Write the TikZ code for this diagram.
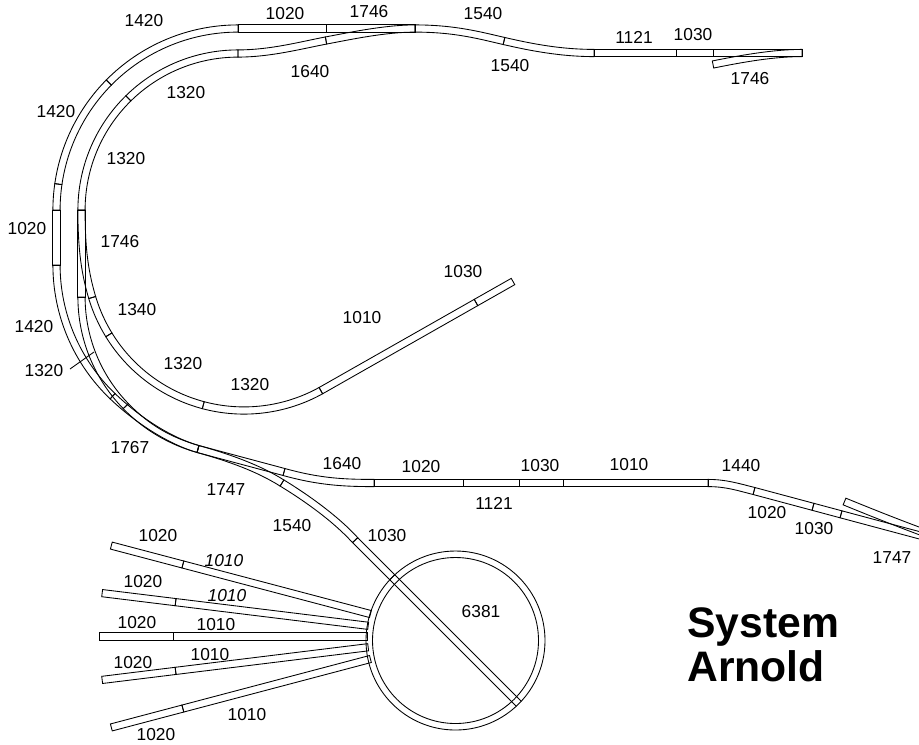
\documentclass[tikz,border=0pt]{standalone}
\usepackage{fontspec}
\setmainfont{Liberation Sans}
\usetikzlibrary{calc}
\newcommand\hw{2.7pt}
% straight piece with closed ends
\newcommand\sr[2]{\draw[rail] ($#1!\hw!-90:#2$) -- ($#2!\hw!90:#1$) -- ($#2!\hw!-90:#1$) -- ($#1!\hw!90:#2$) -- cycle;}
% straight rails without end ties
\newcommand\srn[2]{\draw[rail] ($#1!\hw!-90:#2$) -- ($#2!\hw!90:#1$); \draw[rail] ($#1!\hw!90:#2$) -- ($#2!\hw!-90:#1$);}
% curved (bezier) piece with closed ends
\newcommand\cv[4]{\draw[rail] ($#1!\hw!-90:#2$) .. controls ($#2!\hw!90:#1$) and ($#3!\hw!-90:#4$) .. ($#4!\hw!90:#3$) -- ($#4!\hw!-90:#3$) .. controls ($#3!\hw!90:#4$) and ($#2!\hw!-90:#1$) .. ($#1!\hw!90:#2$) -- cycle;}
% circular piece: centre, radius, start angle, end angle
\newcommand\ac[4]{\pgfmathsetmacro\ro{#2+3.6}\pgfmathsetmacro\ri{#2-3.6}%
  \draw[rail] ($#1+(#3:\ro)$) arc[start angle=#3,end angle=#4,radius=\ro] -- ($#1+(#4:\ri)$) arc[start angle=#4,end angle=#3,radius=\ri] -- cycle;}
\begin{document}
\begin{tikzpicture}[x=0.75pt,y=-0.75pt,
  rail/.style={line width=0.65pt, line join=miter},
  lab/.style={font=\fontsize{13}{15}\selectfont, inner sep=0pt},
  ilab/.style={lab, font=\fontsize{13}{15}\selectfont\itshape},
  ring/.style={line width=0.65pt},
  big/.style={font=\fontsize{32}{33}\selectfont\bfseries, inner sep=0pt, anchor=base west}]
\useasboundingbox (0,0) rectangle (919,744);
\clip (0,0) rectangle (919,744);
% ---- outer track, top left loop
\ac{(238,210)}{181.5}{270}{224.6}
\ac{(238,210)}{181.5}{224.6}{188.2}
\ac{(238,210)}{181.5}{188.2}{180}
\sr{(56.5,210)}{(56.5,265)}
\ac{(238,265)}{181.5}{180}{133.7}
\cv{(112.6,396.2)}{(137.9,420.4)}{(170,441)}{(198,449)}
% ---- top line
\sr{(238,28.5)}{(326,28.5)}
\sr{(326,28.5)}{(415,28.5)}
\cv{(326,40.5)}{(350,36)}{(385,28.5)}{(415,28.5)}
\cv{(415,28.5)}{(455,28.5)}{(480,35.5)}{(504,41)}
\cv{(504,41)}{(530,47)}{(560,53)}{(594,53)}
\sr{(594,53)}{(676,53)}
\sr{(676,53)}{(713,53)}
\sr{(713,53)}{(802,53)}
\cv{(802,53)}{(775,53)}{(745,58)}{(713,64.5)}
% ---- inner track
\cv{(238,53.5)}{(270,53.5)}{(300,45.5)}{(326,40.5)}
\ac{(238,210)}{156.5}{270}{225.5}
\ac{(238,210)}{156.5}{225.5}{180}
\sr{(81.5,210)}{(81.5,297)}
\cv{(81.5,210)}{(81.5,243)}{(83.6,268.8)}{(92.2,297.5)}
\ac{(244,252)}{158.5}{163.3}{148.5}
\ac{(244,252)}{158.5}{148.5}{104.9}
\ac{(244,252)}{158.5}{104.9}{61}
\coordinate (lpEnd) at ($(244,252)+(61:158.5)$);
\sr{(lpEnd)}{(476,302.5)}
\sr{(476,302.5)}{(513,281.5)}
% ---- lower left curve and 1767
\ac{(238,297)}{156.5}{180}{135.8}
\cv{(125.8,406.1)}{(146.7,427.6)}{(170,441)}{(198,449)}
% ---- 1747 and onwards
\sr{(198,449)}{(284,472)}
\cv{(198,449)}{(230,458)}{(258,468)}{(282,483)}
\cv{(284,472)}{(320,482)}{(345,483)}{(374,483)}
\cv{(282,483)}{(305,497)}{(335,518)}{(355.1,540.1)}
\coordinate (C) at (455.5,640.5);
\coordinate (F) at (455.5,636.5);
\coordinate (brA) at ($(C)+(225:89.5)$);
\coordinate (brB) at ($(C)+(45:89.5)$);
\sr{(355.1,540.1)}{(brA)}
\srn{(brA)}{(brB)}
% ---- lower straight
\sr{(374,483)}{(463,483)}
\sr{(463,483)}{(519,483)}
\sr{(519,483)}{(563,483)}
\sr{(563,483)}{(708,483)}
\cv{(708,483)}{(726,483)}{(738,487)}{(754,491)}
\sr{(754,491)}{(813,506.8)}
\sr{(813,506.8)}{(841,514.3)}
\sr{(841,514.3)}{(965,547.5)}
\cv{(844.5,501.5)}{(875,514)}{(915,530)}{(965,547.5)}
% ---- fan of siding tracks
\foreach \a [count=\i] in {194.8,187,180,173,165.2}{
  \coordinate (fo\i) at ($(F)+(\a:356)$);
  \coordinate (fm\i) at ($(F)+(\a:282)$);
  \coordinate (fi\i) at ($(F)+(\a:88)$);
  \sr{(fo\i)}{(fm\i)}
  \sr{(fm\i)}{(fi\i)}
}
% ---- turntable
\draw[ring] (C) circle[radius=89.5];
\draw[ring] (C) circle[radius=83];
% ---- labels
\node[lab] (t1) at (144,21) {1420};
\node[lab] (t2) at (285,14) {1020};
\node[lab] (t3) at (369,12) {1746};
\node[lab] (t4) at (483,14) {1540};
\node[lab] (t5) at (310,72) {1640};
\node[lab] (t6) at (186,93) {1320};
\node[lab] (t7) at (510,66) {1540};
\node[lab] (t8) at (634,37) {1121};
\node[lab] (t9) at (693,35) {1030};
\node[lab] (t10) at (750,79) {1746};
\node[lab] (t11) at (56,112) {1420};
\node[lab] (t12) at (126,159) {1320};
\node[lab] (t13) at (27,229) {1020};
\node[lab] (t14) at (120,242) {1746};
\node[lab] (t15) at (463,272) {1030};
\node[lab] (t16) at (362,318) {1010};
\node[lab] (t17) at (137,310) {1340};
\node[lab] (t18) at (34,327) {1420};
\node[lab] (t19) at (44,371) {1320};
\node[lab] (t20) at (183,364) {1320};
\node[lab] (t21) at (250,385) {1320};
\node[lab] (t22) at (130,448) {1767};
\node[lab] (t23) at (342,464) {1640};
\node[lab] (t24) at (421,467) {1020};
\node[lab] (t25) at (540,466) {1030};
\node[lab] (t26) at (629,465) {1010};
\node[lab] (t27) at (741,466) {1440};
\node[lab] (t28) at (226,490) {1747};
\node[lab] (t29) at (494,503) {1121};
\node[lab] (t30) at (767,513) {1020};
\node[lab] (t31) at (814,529) {1030};
\node[lab] (t32) at (892,558) {1747};
\node[lab] (t33) at (292,526) {1540};
\node[lab] (t34) at (387,536) {1030};
\node[lab] (t35) at (481,612) {6381};
\node[lab] (f1a) at (158,536) {1020};
\node[ilab] (f1b) at (224,561) {1010};
\node[lab] (f2a) at (143,582) {1020};
\node[ilab] (f2b) at (227,596) {1010};
\node[lab] (f3a) at (137,623) {1020};
\node[lab] (f3b) at (216,625) {1010};
\node[lab] (f4a) at (133,663) {1020};
\node[lab] (f4b) at (210,655) {1010};
\node[lab] (f5b) at (247,715) {1010};
\node[lab] (f5a) at (156,735) {1020};
% leader line
\coordinate (ldA) at (70,369);
\coordinate (ldB) at (94,352);
\draw[rail] (ldA) -- (ldB);
% title
\node[big] (sys) at (687,637) {System};
\node[big] (arn) at (687,681) {Arnold};
\end{tikzpicture}
\end{document}
